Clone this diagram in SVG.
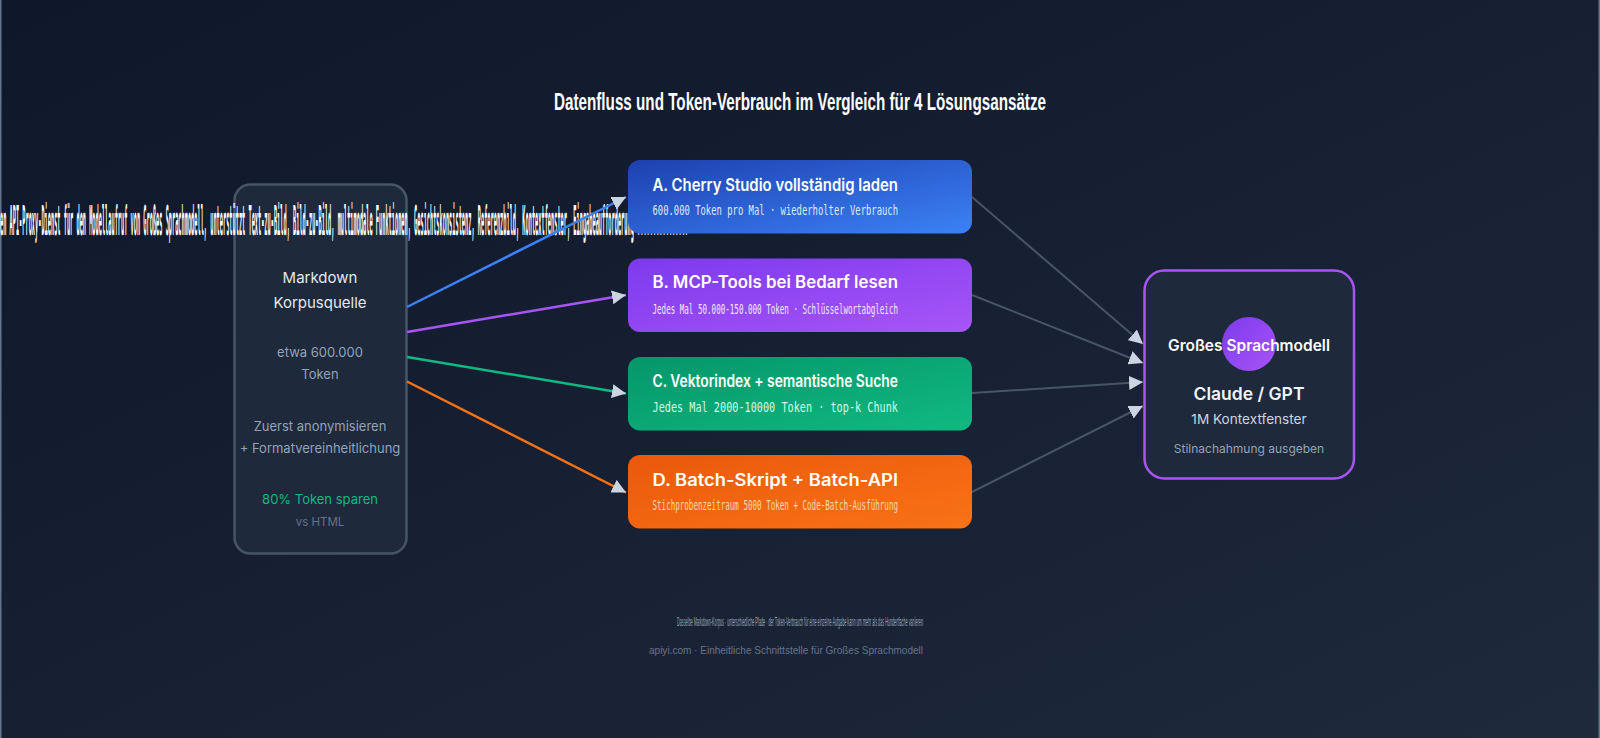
<svg xmlns="http://www.w3.org/2000/svg" width="1600" height="738" viewBox="0 0 1600 738">
<style>
.s{font-family:"Liberation Sans",Arial,sans-serif}
.i{font-family:Inter,"Noto Sans",sans-serif;text-anchor:middle}
.m{font-family:"DejaVu Sans Mono","Liberation Mono",monospace}
.t{font-family:Inter,"Noto Sans",sans-serif;font-weight:600;fill:#fff;font-size:17px}
.u{font-size:13.5px}
.l{fill:none;stroke-width:2.5}
.g{fill:none;stroke:#475569;stroke-width:2}
</style>
<defs>
<linearGradient id="bg" x1="0" y1="0" x2="1" y2="1"><stop offset="0" stop-color="#0f172a"/><stop offset="1" stop-color="#1e293b"/></linearGradient>
<linearGradient id="ga" x1="0" y1="0" x2="1" y2="1"><stop offset="0" stop-color="#1e40af"/><stop offset="1" stop-color="#3b82f6"/></linearGradient>
<linearGradient id="gb" x1="0" y1="0" x2="1" y2="1"><stop offset="0" stop-color="#7c3aed"/><stop offset="1" stop-color="#a855f7"/></linearGradient>
<linearGradient id="gc" x1="0" y1="0" x2="1" y2="1"><stop offset="0" stop-color="#059669"/><stop offset="1" stop-color="#10b981"/></linearGradient>
<linearGradient id="gd" x1="0" y1="0" x2="1" y2="1"><stop offset="0" stop-color="#ea580c"/><stop offset="1" stop-color="#f97316"/></linearGradient>
<marker id="ar" markerWidth="14" markerHeight="14" refX="14" refY="7" orient="auto" markerUnits="userSpaceOnUse" viewBox="0 0 14 14"><path d="M0 0L14 7L0 14z" fill="#cbd5e1"/></marker>
</defs>
<rect width="1600" height="738" fill="url(#bg)"/>
<rect x="0" y="0" width="1.500" height="738" fill="#64748b"/>
<rect x="1598.500" y="0" width="1.500" height="738" fill="#64748b"/>
<text class="s" x="554" y="110" font-size="24" font-weight="700" fill="#fff" textLength="492" lengthAdjust="spacingAndGlyphs">Datenfluss und Token-Verbrauch im Vergleich für 4 Lösungsansätze</text>
<g id="source">
<rect x="234.500" y="184.500" width="172" height="369" rx="16" fill="#1e293b" stroke="#475569" stroke-width="2.500"/>
<text class="i" x="320" y="283" font-size="15" fill="#e2e8f0">Markdown</text>
<text class="i" x="320" y="308" font-size="15" fill="#e2e8f0">Korpusquelle</text>
<text class="i" x="320" y="357" font-size="13" fill="#94a3b8">etwa 600.000</text>
<text class="i" x="320" y="379" font-size="13" fill="#94a3b8">Token</text>
<text class="i" x="320" y="431" font-size="13" fill="#94a3b8">Zuerst anonymisieren</text>
<text class="i" x="320" y="453" font-size="13" fill="#94a3b8">+ Formatvereinheitlichung</text>
<text class="i" x="320" y="504" font-size="13" fill="#10b981">80% Token sparen</text>
<text class="i" x="320" y="526" font-size="11.500" fill="#64748b">vs HTML</text>
</g>
<text class="m" x="0" y="235" font-size="40" font-weight="700" fill="#fff" textLength="688" lengthAdjust="spacingAndGlyphs">en API-Proxy-Dienst für den Modellaufruf von Großes Sprachmodell, unterstützt Text-zu-Bild, Bild-zu-Bild, multimodale Funktionen, Gesichtskonsistenz, Referenzbild, Kontextfenster, Eingabeaufforderung ................</text>
<g id="connectors">
<path class="l" stroke="#3b82f6" d="M407 307L626 197" marker-end="url(#ar)"/>
<path class="l" stroke="#a855f7" d="M407 332L626 295" marker-end="url(#ar)"/>
<path class="l" stroke="#10b981" d="M407 357L626 393.500" marker-end="url(#ar)"/>
<path class="l" stroke="#f97316" d="M407 381.500L626 492.500" marker-end="url(#ar)"/>
<path class="g" d="M972 197L1143 344" marker-end="url(#ar)"/>
<path class="g" d="M972 295L1143 363" marker-end="url(#ar)"/>
<path class="g" d="M972 393L1143 382" marker-end="url(#ar)"/>
<path class="g" d="M972 492L1143 406" marker-end="url(#ar)"/>
</g>
<g id="a"><rect x="628" y="160" width="344" height="73.500" rx="12" fill="url(#ga)"/>
<text class="t" x="652.500" y="190.500" textLength="245.500" lengthAdjust="spacingAndGlyphs">A. Cherry Studio vollständig laden</text>
<text class="m u" x="652.500" y="215" fill="#dbeafe" textLength="245.500" lengthAdjust="spacingAndGlyphs">600.000 Token pro Mal · wiederholter Verbrauch</text></g>
<g id="b"><rect x="628" y="258.500" width="344" height="73.500" rx="12" fill="url(#gb)"/>
<text class="t" x="652.500" y="288" textLength="245.500" lengthAdjust="spacingAndGlyphs">B. MCP-Tools bei Bedarf lesen</text>
<text class="m u" x="652.500" y="314" fill="#f3e8ff" textLength="245.500" lengthAdjust="spacingAndGlyphs">Jedes Mal 50.000-150.000 Token · Schlüsselwortabgleich</text></g>
<g id="c"><rect x="628" y="357" width="344" height="73.500" rx="12" fill="url(#gc)"/>
<text class="t" x="652.500" y="387" textLength="245.500" lengthAdjust="spacingAndGlyphs">C. Vektorindex + semantische Suche</text>
<text class="m u" x="652.500" y="412" fill="#d1fae5" textLength="245.500" lengthAdjust="spacingAndGlyphs">Jedes Mal 2000-10000 Token · top-k Chunk</text></g>
<g id="d"><rect x="628" y="455" width="344" height="73.500" rx="12" fill="url(#gd)"/>
<text class="t" x="652.500" y="486" textLength="245.500" lengthAdjust="spacingAndGlyphs">D. Batch-Skript + Batch-API</text>
<text class="m u" x="652.500" y="510" fill="#fed7aa" textLength="245.500" lengthAdjust="spacingAndGlyphs">Stichprobenzeitraum 5000 Token + Code-Batch-Ausführung</text></g>
<g id="llm">
<rect x="1144.500" y="270.500" width="209.500" height="208" rx="20" fill="#1e293b" stroke="#a855f7" stroke-width="2.500"/>
<circle cx="1249" cy="344" r="27" fill="url(#gb)"/>
<text class="i" x="1249" y="351" font-size="15.500" font-weight="600" fill="#fff">Großes Sprachmodell</text>
<text class="i" x="1249" y="400" font-size="17.500" font-weight="600" fill="#f1f5f9">Claude / GPT</text>
<text class="i" x="1249" y="424" font-size="13.600" fill="#cbd5e1">1M Kontextfenster</text>
<text class="i" x="1249" y="453" font-size="12" fill="#94a3b8">Stilnachahmung ausgeben</text>
</g>
<text class="s" x="677" y="626" font-size="13" fill="#94a3b8" textLength="246" lengthAdjust="spacingAndGlyphs">Dasselbe Markdown-Korpus · unterschiedliche Pfade · der Token-Verbrauch für eine einzelne Aufgabe kann um mehr als das Hundertfache variieren</text>
<text class="s" x="649" y="654" font-size="11" fill="#64748b" textLength="274" lengthAdjust="spacingAndGlyphs">apiyi.com · Einheitliche Schnittstelle für Großes Sprachmodell</text>
</svg>
